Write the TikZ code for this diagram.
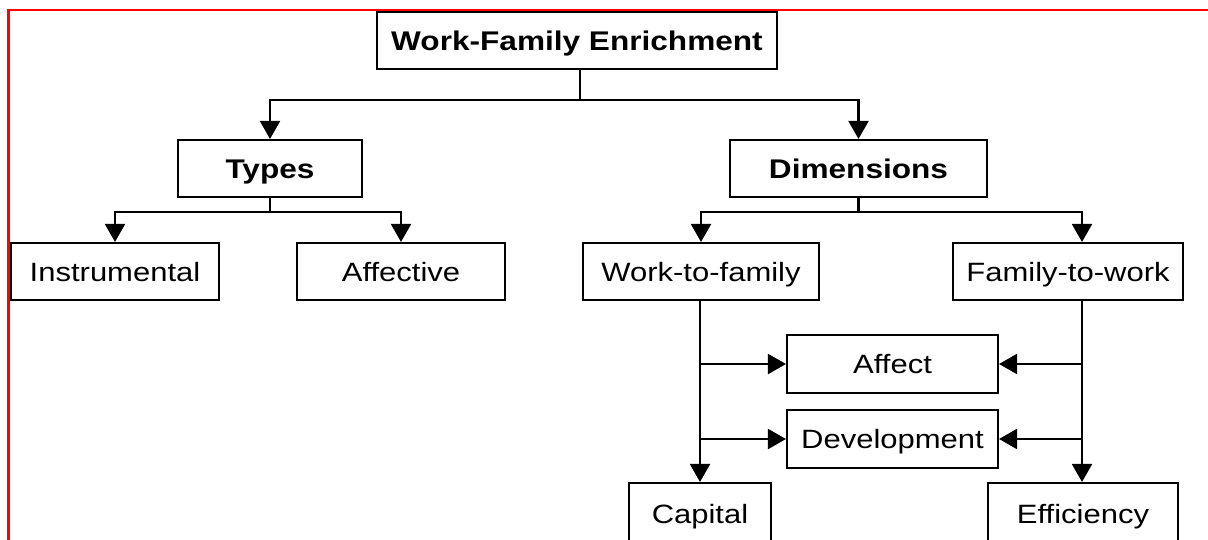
\documentclass[tikz,border=0pt]{standalone}
\usepackage{fontspec}
\setmainfont{Liberation Sans}[FakeStretch=1.17]
\usetikzlibrary{arrows.meta}
\begin{document}
\begin{tikzpicture}[x=1pt,y=-1pt,
  box/.style={draw=black,line width=2.1pt,rectangle,inner sep=0pt,
    minimum height=57pt,text height=19pt,text depth=0pt,
    font=\fontsize{26.5}{30}\selectfont},
  head/.style={box,text height=19.4pt,font=\fontsize{27}{31}\selectfont\bfseries},
  link/.style={draw=black,line width=2.1pt},
  arr/.style={link,-{Triangle[width=20pt,length=18pt]}}]
\useasboundingbox (0,0) rectangle (1208,539);
\clip (0,0) rectangle (1208,539);
% frame
\draw[red,line width=2.2pt] (1208,10) -- (8.5,10) -- (8.5,545);
% nodes
\node[head,minimum width=400pt] (wfe) at (577,40.5) {Work-Family Enrichment};
\node[head,minimum width=184pt] (types) at (270,168.5) {Types};
\node[head,minimum width=257pt] (dims) at (858.5,168.5) {Dimensions};
\node[box,minimum width=208pt] (instr) at (115,271.5) {Instrumental};
\node[box,minimum width=208pt] (affv) at (401,271.5) {Affective};
\node[box,minimum width=236pt] (wtf) at (701,271.5) {Work-to-family};
\node[box,minimum width=230pt] (ftw) at (1068,271.5) {Family-to-work};
\node[box,minimum width=211pt,minimum height=58pt] (affect) at (892.5,364) {Affect};
\node[box,minimum width=211pt,minimum height=58pt] (devel) at (892.5,439) {Development};
\node[box,minimum width=142pt,minimum height=62pt] (capital) at (700,514) {Capital};
\node[box,minimum width=190pt,minimum height=62pt] (effic) at (1083,514) {Efficiency};
% junctions
\coordinate (j0) at (580,100);
\coordinate (j1) at (270,212);
\coordinate (j2) at (858.5,212);
\coordinate (rtop) at (1082,212);
\coordinate (rbot) at (1082,300);
\coordinate (la) at (700,364);
\coordinate (ld) at (700,439);
\coordinate (ra) at (1082,364);
\coordinate (rd) at (1082,439);
% top level
\draw[link] (wfe.south -| j0) -- (j0);
\draw[arr] (j0) -| (types.north);
\draw[arr] (j0) -| (dims.north);
% types
\draw[link] (types.south) -- (j1);
\draw[arr] (j1) -| (instr.north);
\draw[arr] (j1) -| (affv.north);
% dimensions
\draw[link] (dims.south) -- (j2);
\draw[arr] (j2) -| (wtf.north);
\draw[arr] (j2) -- (rtop) -- (rtop |- ftw.north);
% work-to-family branch
\draw[arr] (wtf.south -| la) -- (capital.north -| la);
\draw[arr] (la) -- (affect.west);
\draw[arr] (ld) -- (devel.west);
% family-to-work branch
\draw[arr] (rbot) -- (effic.north -| rbot);
\draw[arr] (ra) -- (affect.east);
\draw[arr] (rd) -- (devel.east);
\end{tikzpicture}
\end{document}
